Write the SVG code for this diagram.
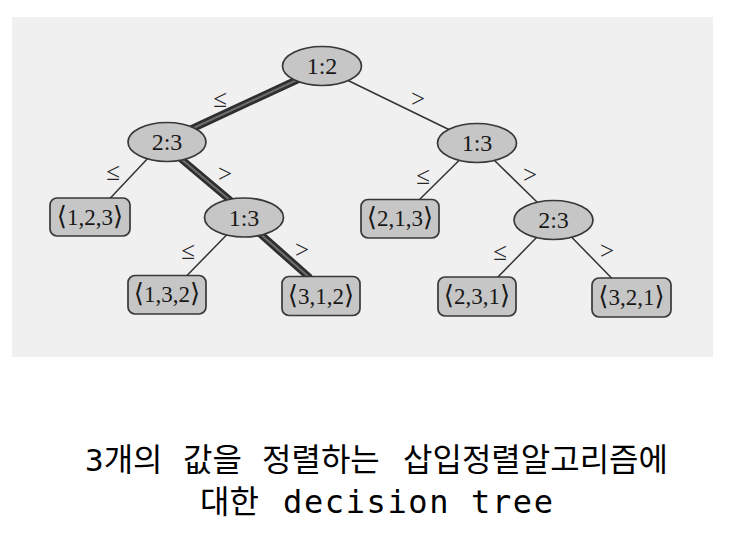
<svg xmlns="http://www.w3.org/2000/svg" width="731" height="534" viewBox="0 0 731 534">
<style>
.panel{fill:#f0f0f0}
.inode{fill:#c6c6c6;stroke:#383838;stroke-width:1.7}
.leaf{fill:#c6c6c6;stroke:#383838;stroke-width:1.7}
.nt{font-family:"Liberation Serif","DejaVu Serif",serif;font-size:24px;fill:#181818;text-anchor:middle}
.lt{font-family:"Liberation Serif","DejaVu Serif",serif;font-size:23px;fill:#181818;text-anchor:middle}
.br{font-size:26px}
.thin{stroke:#333;stroke-width:1.5;fill:none}
.thickO{stroke:#2e2e2e;stroke-width:7.5;stroke-linecap:butt;fill:none}
.thickI{stroke:#6e6e6e;stroke-width:2;fill:none}
.el{font-family:"Liberation Serif","DejaVu Serif",serif;font-size:25px;fill:#262626;text-anchor:middle}
.cap{font-family:"Noto Sans CJK KR","DejaVu Sans Mono",sans-serif;font-size:32px;fill:#000}
.mono{font-family:"DejaVu Sans Mono","Liberation Mono",monospace}
</style>
<rect class="panel" x="12" y="17" width="701" height="340"/>
<g id="connectors">
<line class="thickO" x1="300" y1="78.5" x2="186" y2="131.5"/>
<line class="thickI" x1="300" y1="78.5" x2="186" y2="131.5"/>
<line class="thickO" x1="177" y1="155.5" x2="234" y2="203.5"/>
<line class="thickI" x1="177" y1="155.5" x2="234" y2="203.5"/>
<line class="thickO" x1="257" y1="231" x2="310" y2="278"/>
<line class="thickI" x1="257" y1="231" x2="310" y2="278"/>
<line class="thin" x1="345" y1="79" x2="456" y2="133"/>
<line class="thin" x1="150" y1="156" x2="109" y2="199.5"/>
<line class="thin" x1="229" y1="232.5" x2="185.5" y2="277"/>
<line class="thin" x1="460" y1="159.5" x2="418" y2="201"/>
<line class="thin" x1="493" y1="159" x2="539" y2="204"/>
<line class="thin" x1="538" y1="236" x2="495.5" y2="279.5"/>
<line class="thin" x1="570" y1="235.5" x2="613.5" y2="280"/>
<text class="el" x="220" y="107">≤</text>
<text class="el" x="418" y="107">&gt;</text>
<text class="el" x="113" y="180">≤</text>
<text class="el" x="225" y="182">&gt;</text>
<text class="el" x="188" y="259">≤</text>
<text class="el" x="302" y="258">&gt;</text>
<text class="el" x="423" y="184">≤</text>
<text class="el" x="530" y="183">&gt;</text>
<text class="el" x="500" y="260">≤</text>
<text class="el" x="607" y="259">&gt;</text>
</g>
<g id="n12"><ellipse class="inode" cx="322" cy="66" rx="39.5" ry="19.5"/><text class="nt" x="322" y="74">1:2</text></g>
<g id="n23L"><ellipse class="inode" cx="167" cy="142" rx="39" ry="19.5"/><text class="nt" x="167" y="150">2:3</text></g>
<g id="n13L"><ellipse class="inode" cx="244" cy="217.5" rx="39.5" ry="19.5"/><text class="nt" x="244" y="225.5">1:3</text></g>
<g id="n13R"><ellipse class="inode" cx="477" cy="143" rx="39.5" ry="19.5"/><text class="nt" x="477" y="151">1:3</text></g>
<g id="n23R"><ellipse class="inode" cx="553.5" cy="220" rx="39.5" ry="19.5"/><text class="nt" x="553.5" y="228">2:3</text></g>
<g id="l123"><rect class="leaf" x="50" y="198" width="80" height="38" rx="7"/><text class="lt" x="90" y="224.5"><tspan class="br">⟨</tspan>1,2,3<tspan class="br">⟩</tspan></text></g>
<g id="l132"><rect class="leaf" x="128" y="275.5" width="78" height="38.5" rx="7"/><text class="lt" x="167" y="302"><tspan class="br">⟨</tspan>1,3,2<tspan class="br">⟩</tspan></text></g>
<g id="l312"><rect class="leaf" x="282" y="276.5" width="78" height="39" rx="7"/><text class="lt" x="321" y="303.5"><tspan class="br">⟨</tspan>3,1,2<tspan class="br">⟩</tspan></text></g>
<g id="l213"><rect class="leaf" x="361" y="199.5" width="78" height="38.5" rx="7"/><text class="lt" x="400" y="226"><tspan class="br">⟨</tspan>2,1,3<tspan class="br">⟩</tspan></text></g>
<g id="l231"><rect class="leaf" x="438" y="277" width="78" height="39" rx="7"/><text class="lt" x="477" y="304"><tspan class="br">⟨</tspan>2,3,1<tspan class="br">⟩</tspan></text></g>
<g id="l321"><rect class="leaf" x="592" y="278" width="79" height="39" rx="7"/><text class="lt" x="631.5" y="305"><tspan class="br">⟨</tspan>3,2,1<tspan class="br">⟩</tspan></text></g>
<g id="caption">
<text class="cap" y="471"><tspan x="85" class="mono" font-size="31">3</tspan><tspan>개의</tspan><tspan x="183">값을</tspan><tspan x="262">정렬하는</tspan><tspan x="403">삽입정렬알고리즘에</tspan></text>
<text class="cap" y="513"><tspan x="200">대한</tspan><tspan x="283" class="mono" textLength="270" lengthAdjust="spacing">decision tree</tspan></text>
</g>
</svg>
